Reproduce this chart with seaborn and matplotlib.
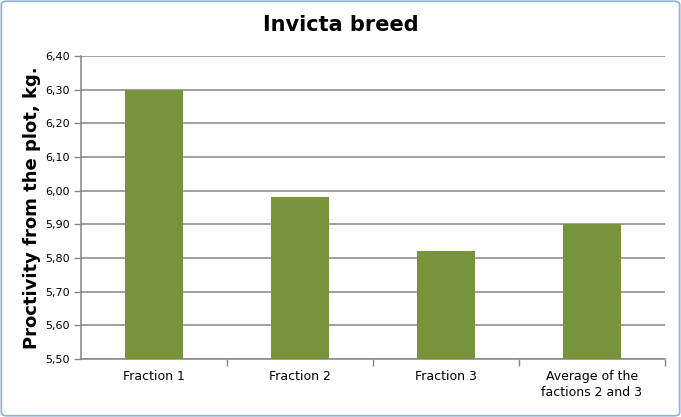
import matplotlib
matplotlib.use("Agg")
import matplotlib.pyplot as plt
import seaborn as sns
import pandas as pd
from matplotlib.patches import FancyBboxPatch
from matplotlib.ticker import FixedLocator, FuncFormatter

categories = ["Fraction 1", "Fraction 2", "Fraction 3", "Average of the\nfactions 2 and 3"]
values = [6.30, 5.98, 5.82, 5.90]
yticks = [5.50, 5.60, 5.70, 5.80, 5.90, 6.00, 6.10, 6.20, 6.30, 6.40]

sns.set_theme(style="white")
plt.rcParams['font.family'] = ['DejaVu Sans']
plt.rcParams['text.color'] = 'black'
plt.rcParams['axes.labelcolor'] = 'black'
plt.rcParams['xtick.color'] = 'black'
plt.rcParams['ytick.color'] = 'black'

df = pd.DataFrame({"cat": categories, "val": values})

fig = plt.figure(figsize=(6.81, 4.17), dpi=100)
ax = fig.add_axes([0.119, 0.139, 0.857, 0.727])
ax.set_axisbelow(True)

sns.barplot(data=df, x="cat", y="val", color="#77933C", saturation=1, width=0.4, ax=ax,
            linewidth=0, edgecolor="none", zorder=3)
ax.set_ylim(5.50, 6.40)
ax.set_xlim(-0.5, 3.5)
ax.yaxis.set_major_locator(FixedLocator(yticks))
ax.yaxis.set_major_formatter(FuncFormatter(lambda v, p: f"{v:.2f}".replace(".", ",")))
ax.grid(axis="y", color="#868686", linewidth=1.1, zorder=0)
ax.grid(axis="x", visible=False)

for s in ["top", "right"]:
    ax.spines[s].set_visible(False)
for s in ["left", "bottom"]:
    ax.spines[s].set_color("#868686")
    ax.spines[s].set_linewidth(1.1)

ax.tick_params(axis="y", which="both", left=True, length=5, width=1, color="#868686",
               labelsize=8, labelcolor="#000000", pad=3)
ax.set_xticks([0, 1, 2, 3])
ax.set_xticklabels(categories, fontsize=9, linespacing=1.3, color="black")
ax.set_xticks([0.5, 1.5, 2.5, 3.5], minor=True)
ax.tick_params(axis="x", which="major", bottom=False, length=0, pad=8)
ax.tick_params(axis="x", which="minor", bottom=True, length=5, width=1, color="#868686")
for lab in ax.get_xticklabels():
    lab.set_verticalalignment("top")

ax.set_xlabel("")
ax.set_ylabel("Proctivity from the plot, kg.", fontsize=13, fontweight="bold", labelpad=3, color="black")
fig.text(0.5, 0.94, "Invicta breed", ha="center", va="center", fontsize=15, fontweight="bold", color="black")

border = FancyBboxPatch((0.002, 0.003), 0.996, 0.994, boxstyle="round,pad=0,rounding_size=0.008",
                        transform=fig.transFigure, fill=False, edgecolor="#95B3D7", linewidth=1.3)
fig.patches.append(border)

fig.savefig("out.png", dpi=100)
